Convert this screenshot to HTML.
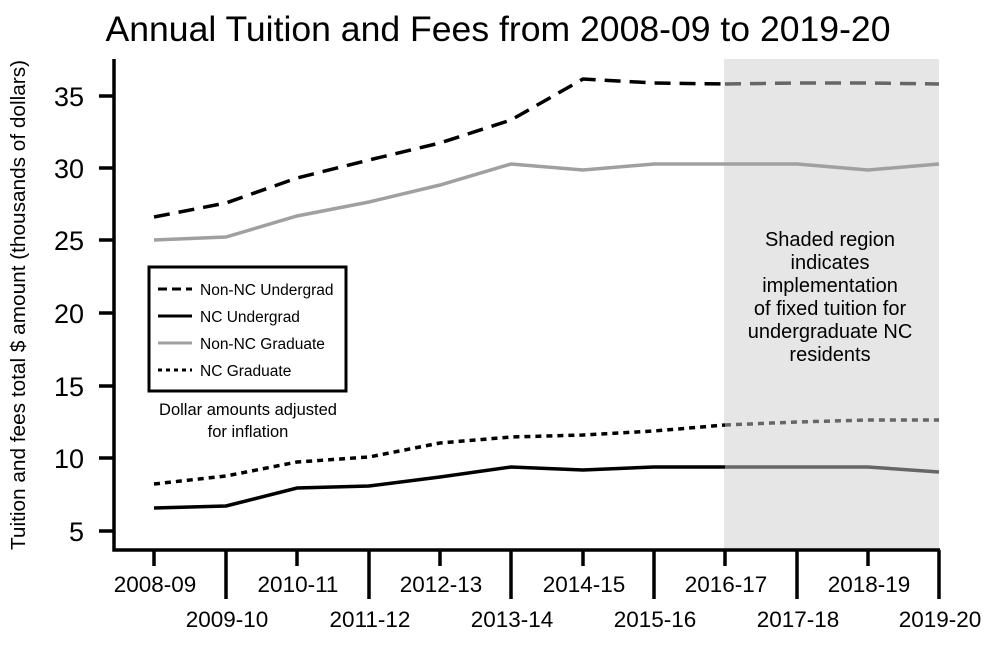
<!DOCTYPE html>
<html><head><style>
body{margin:0;background:#fff}
svg text{font-family:"Liberation Sans",sans-serif}
</style></head><body>
<svg width="1000" height="641" viewBox="0 0 1000 641" xmlns="http://www.w3.org/2000/svg">
<rect x="724" y="59" width="215" height="491" fill="#e6e6e6"/>
<text x="498" y="41" font-size="35" text-anchor="middle" textLength="785" lengthAdjust="spacingAndGlyphs">Annual Tuition and Fees from 2008-09 to 2019-20</text>
<text transform="translate(25,305) rotate(-90)" font-size="20" text-anchor="middle" textLength="490" lengthAdjust="spacingAndGlyphs">Tuition and fees total $ amount (thousands of dollars)</text>
<g fill="none" stroke-width="3.5">
<polyline stroke="#000" stroke-dasharray="16,9" points="154,217 226,203 297,178 369,160 440,143 511,120 583,79 654,83 725,84"/>
<polyline stroke="#666" stroke-dasharray="16,9" points="725,84 797,83 868,83 939,84"/>
<polyline stroke="#a0a0a0" points="154,240 226,237 297,216 369,202 440,185 511,164 583,170 654,164 725,164 797,164 868,170 939,164"/>
<polyline stroke="#000" stroke-dasharray="6,5" points="154,484 226,476 297,462 369,457 440,443 511,437 583,435 654,431 725,425"/>
<polyline stroke="#666" stroke-dasharray="6,5" points="725,425 797,422 868,420 939,420"/>
<polyline stroke="#000" points="154,508 226,506 297,488 369,486 440,477 511,467 583,470 654,467 725,467"/>
<polyline stroke="#666" points="725,467 797,467 868,467 939,472"/>
</g>
<g stroke="#000" stroke-width="3.5" fill="none">
<polyline points="114,59 114,550 940,550"/>
<line x1="99" y1="96" x2="114" y2="96"/><line x1="99" y1="168" x2="114" y2="168"/>
<line x1="99" y1="240" x2="114" y2="240"/><line x1="99" y1="313" x2="114" y2="313"/>
<line x1="99" y1="386" x2="114" y2="386"/><line x1="99" y1="458" x2="114" y2="458"/>
<line x1="99" y1="531" x2="114" y2="531"/>
<line x1="154" y1="550" x2="154" y2="566"/><line x1="226" y1="550" x2="226" y2="599"/>
<line x1="297" y1="550" x2="297" y2="566"/><line x1="369" y1="550" x2="369" y2="599"/>
<line x1="440" y1="550" x2="440" y2="566"/><line x1="511" y1="550" x2="511" y2="599"/>
<line x1="583" y1="550" x2="583" y2="566"/><line x1="654" y1="550" x2="654" y2="599"/>
<line x1="725" y1="550" x2="725" y2="566"/><line x1="797" y1="550" x2="797" y2="599"/>
<line x1="868" y1="550" x2="868" y2="566"/><line x1="939" y1="550" x2="939" y2="599"/>
</g>
<g font-size="27" text-anchor="end">
<text x="84" y="106">35</text><text x="84" y="178">30</text><text x="84" y="250">25</text>
<text x="84" y="323">20</text><text x="84" y="396">15</text><text x="84" y="468">10</text><text x="84" y="541">5</text>
</g>
<g font-size="22.5" text-anchor="middle">
<text x="155" y="592">2008-09</text><text x="298" y="592">2010-11</text><text x="441" y="592">2012-13</text>
<text x="584" y="592">2014-15</text><text x="726" y="592">2016-17</text><text x="869" y="592">2018-19</text>
<text x="227" y="627">2009-10</text><text x="370" y="627">2011-12</text><text x="512" y="627">2013-14</text>
<text x="655" y="627">2015-16</text><text x="798" y="627">2017-18</text><text x="940" y="627">2019-20</text>
</g>
<rect x="149" y="267" width="197" height="124" fill="#fff" stroke="#000" stroke-width="3"/>
<g stroke-width="3">
<line x1="158" y1="289" x2="192" y2="289" stroke="#000" stroke-dasharray="9,5"/>
<line x1="158" y1="316" x2="192" y2="316" stroke="#000"/>
<line x1="158" y1="343" x2="192" y2="343" stroke="#a0a0a0"/>
<line x1="158" y1="370" x2="192" y2="370" stroke="#000" stroke-dasharray="4,4"/>
</g>
<g font-size="15.5">
<text x="200" y="295">Non-NC Undergrad</text><text x="200" y="322">NC Undergrad</text>
<text x="200" y="349">Non-NC Graduate</text><text x="200" y="376">NC Graduate</text>
</g>
<g font-size="16.5" text-anchor="middle">
<text x="248" y="415">Dollar amounts adjusted</text><text x="248" y="437">for inflation</text>
</g>
<g font-size="20" text-anchor="middle">
<text x="830" y="246">Shaded region</text><text x="830" y="269">indicates</text>
<text x="830" y="292">implementation</text><text x="830" y="315">of fixed tuition for</text>
<text x="830" y="338">undergraduate NC</text><text x="830" y="361">residents</text>
</g>
</svg>
</body></html>
